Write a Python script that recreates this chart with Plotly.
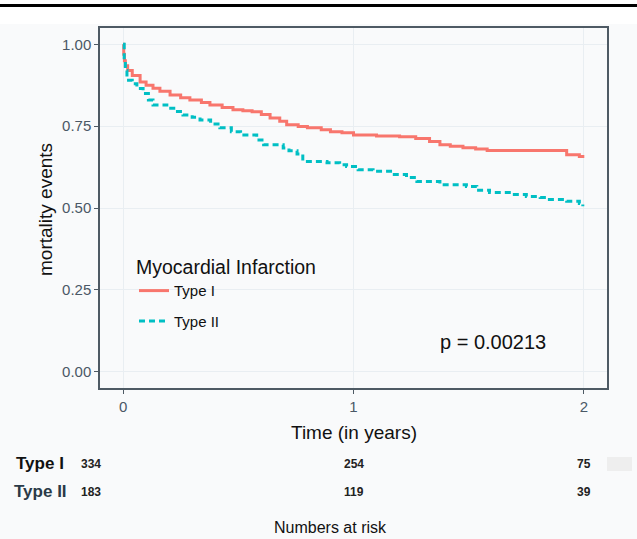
import plotly.graph_objects as go

# ---- data ----
type1_time = [0, 0.003, 0.006, 0.01, 0.02, 0.04, 0.074, 0.1, 0.13, 0.16, 0.204, 0.25, 0.29, 0.34,
              0.377, 0.43, 0.477, 0.52, 0.56, 0.6, 0.638, 0.68, 0.71, 0.76, 0.80, 0.86, 0.90, 0.95,
              1.0, 1.1, 1.2, 1.27, 1.33, 1.375, 1.42, 1.475, 1.53, 1.58, 1.88, 1.925, 1.98, 1.995]
type1_surv = [1.0, 0.97, 0.95, 0.935, 0.92, 0.905, 0.885, 0.875, 0.866, 0.857, 0.845, 0.837, 0.83, 0.822,
              0.815, 0.807, 0.80, 0.797, 0.794, 0.786, 0.775, 0.765, 0.754, 0.749, 0.745, 0.739, 0.733, 0.73,
              0.723, 0.72, 0.718, 0.712, 0.703, 0.693, 0.689, 0.684, 0.68, 0.676, 0.676, 0.663, 0.657, 0.653]

type2_time = [0, 0.005, 0.01, 0.017, 0.04, 0.06, 0.087, 0.11, 0.13, 0.19, 0.22, 0.26, 0.30, 0.334,
              0.38, 0.42, 0.47, 0.51, 0.58, 0.61, 0.695, 0.72, 0.755, 0.78, 0.885, 0.94, 0.97, 1.02,
              1.085, 1.17, 1.23, 1.275, 1.375, 1.49, 1.535, 1.59, 1.69, 1.75, 1.81, 1.85, 1.925, 1.98, 1.995]
type2_surv = [1.0, 0.95, 0.92, 0.89, 0.88, 0.865, 0.85, 0.83, 0.815, 0.805, 0.795, 0.784, 0.777, 0.769,
              0.757, 0.745, 0.733, 0.723, 0.708, 0.693, 0.683, 0.675, 0.665, 0.642, 0.638, 0.632, 0.627, 0.617,
              0.612, 0.602, 0.593, 0.581, 0.571, 0.566, 0.554, 0.547, 0.541, 0.535, 0.532, 0.526, 0.521, 0.514, 0.505]

risk_times = [0, 1, 2]
risk_type1 = [334, 254, 75]
risk_type2 = [183, 119, 39]
group_labels = ["Type I", "Type II"]
y_ticks = [0, 0.25, 0.5, 0.75, 1.0]
y_ticklabels = ["0.00", "0.25", "0.50", "0.75", "1.00"]
x_ticks = [0, 1, 2]
p_text = "p = 0.00213"

FONT = "Liberation Sans, Arial, sans-serif"
RED = "#F8766D"
TEAL = "#00BFC4"
TICKCOL = "#4a5866"

fig = go.Figure()
fig.add_trace(go.Scatter(x=type1_time, y=type1_surv, mode="lines", line_shape="hv",
                         line=dict(color=RED, width=3), name=group_labels[0], legendgroup="a"))
fig.add_trace(go.Scatter(x=type2_time, y=type2_surv, mode="lines", line_shape="hv",
                         line=dict(color=TEAL, width=3, dash="6px,4px"), name=group_labels[1], legendgroup="b"))

W, H = 637, 539
L, R, T, B = 100, 30, 28, 151
ph = H - T - B  # plot height
pw = W - L - R

def py(ypix):
    return (H - B - ypix) / ph

def px(xpix):
    return (xpix - L) / pw

annotations = []
# axis titles
annotations.append(dict(text="Time (in years)", xref="paper", yref="paper", x=px(354), y=py(432),
                        showarrow=False, font=dict(size=19, color="#111", family=FONT), xanchor="center", yanchor="middle"))
annotations.append(dict(text="mortality events", xref="paper", yref="paper", x=px(45), y=py(210),
                        showarrow=False, textangle=-90, font=dict(size=19, color="#111", family=FONT),
                        xanchor="center", yanchor="middle"))
# p-value
annotations.append(dict(text=p_text, xref="paper", yref="paper", x=px(438), y=py(342), showarrow=False,
                        xanchor="left", yanchor="middle", font=dict(size=20, color="#111", family=FONT)))
# risk table
rows = [(group_labels[0], risk_type1, 464, "#111"), (group_labels[1], risk_type2, 492, "#2b3a48")]
for lab, vals, yp, col in rows:
    annotations.append(dict(text="<b>%s</b>" % lab, xref="paper", yref="paper", x=px(40), y=py(yp),
                            showarrow=False, xanchor="center", yanchor="middle",
                            font=dict(size=17, color=col, family=FONT)))
    for i, (t, v) in enumerate(zip(risk_times, vals)):
        annotations.append(dict(text="<b>%d</b>" % v, xref="x", yref="paper", x=t, y=py(yp),
                                xshift=-32 if i == 0 else 0,
                                showarrow=False, xanchor="center", yanchor="middle",
                                font=dict(size=12, color="#222", family=FONT)))
annotations.append(dict(text="Numbers at risk", xref="paper", yref="paper", x=px(330), y=py(527),
                        showarrow=False, xanchor="center", yanchor="middle",
                        font=dict(size=16, color="#111", family=FONT)))

shapes = [
    # faint page background
    dict(type="rect", xref="paper", yref="paper", x0=px(0), x1=px(W), y0=py(H), y1=py(24),
         fillcolor="#f9fafb", line=dict(width=0), layer="below"),
    # top rule
    dict(type="line", xref="paper", yref="paper", x0=px(0), x1=px(W), y0=py(5.5), y1=py(5.5),
         line=dict(color="black", width=3)),
    # faint block right of risk numbers
    dict(type="rect", xref="paper", yref="paper", x0=px(607), x1=px(632), y0=py(471), y1=py(457),
         fillcolor="#eeeeee", line=dict(width=0), layer="below"),
]

fig.update_layout(
    width=W, height=H,
    margin=dict(l=L, r=R, t=T, b=B),
    paper_bgcolor="white",
    plot_bgcolor="white",
    font=dict(family=FONT),
    showlegend=True,
    legend=dict(x=px(134), y=py(249), xanchor="left", yanchor="top",
                bgcolor="rgba(0,0,0,0)", traceorder="grouped", tracegroupgap=8,
                title=dict(text="Myocardial Infarction", font=dict(size=19.5, color="#111", family=FONT)),
                font=dict(size=15, color="#111", family=FONT)),
    annotations=annotations,
    shapes=shapes,
)
fig.update_xaxes(range=[-0.1, 2.1], tickvals=x_ticks, ticktext=[str(v) for v in x_ticks],
                 showgrid=True, gridcolor="#e9eef2", gridwidth=1, zeroline=False,
                 showline=True, mirror=True, linecolor="#4e5a64", linewidth=1.5,
                 ticks="outside", ticklen=4, tickcolor="#4e5a64",
                 tickfont=dict(size=15, color=TICKCOL, family=FONT))
fig.update_yaxes(range=[-0.05, 1.05], tickvals=y_ticks, ticktext=y_ticklabels,
                 showgrid=True, gridcolor="#e9eef2", gridwidth=1, zeroline=False,
                 showline=True, mirror=True, linecolor="#4e5a64", linewidth=1.5,
                 ticks="outside", ticklen=4, tickcolor="#4e5a64",
                 tickfont=dict(size=15, color=TICKCOL, family=FONT))

fig.write_html("out.html", config={"displayModeBar": False},
               post_script="document.body.style.margin='0';document.body.style.padding='0';")
